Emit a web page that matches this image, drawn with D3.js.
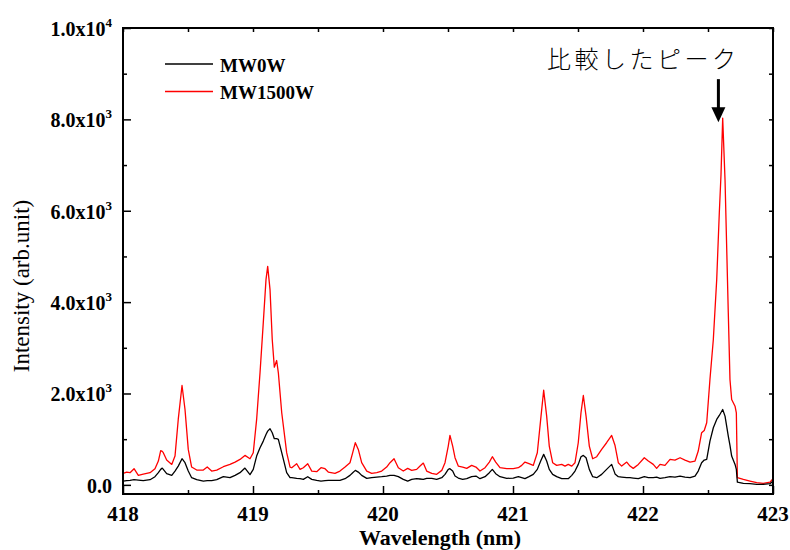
<!DOCTYPE html>
<html>
<head>
<meta charset="utf-8">
<script src="https://cdn.jsdelivr.net/npm/d3@7"></script>
<style>
  body { margin: 0; background: #fff; }
  svg text { font-family: "Liberation Serif", "Times New Roman", serif; }
</style>
</head>
<body>
<div class="spec"></div>
<script>
// spectra (wavelength in nm, intensity in arb. unit)
var wavelength = [418.002,418.028,418.054,418.085,418.118,418.156,418.208,418.246,418.272,418.290,
  418.302,418.310,418.336,418.375,418.400,418.425,418.454,418.477,418.502,418.528,
  418.567,418.618,418.648,418.682,418.721,418.772,418.823,418.862,418.900,418.938,
  418.977,419.002,419.028,419.054,419.079,419.100,419.113,419.131,419.148,419.164,
  419.182,419.195,419.221,419.259,419.285,419.298,419.336,419.362,419.387,419.421,
  419.452,419.490,419.523,419.554,419.579,419.631,419.669,419.708,419.746,419.767,
  419.787,419.810,419.836,419.875,419.913,419.952,419.990,420.028,420.054,420.085,
  420.118,420.156,420.190,420.221,420.259,420.285,420.310,420.336,420.375,420.413,
  420.452,420.477,420.502,420.515,420.536,420.554,420.579,420.613,420.644,420.682,
  420.715,420.746,420.785,420.818,420.841,420.867,420.900,420.952,421.002,421.041,
  421.067,421.092,421.123,421.156,421.187,421.213,421.236,421.259,421.279,421.305,
  421.336,421.375,421.400,421.425,421.452,421.477,421.502,421.523,421.541,421.562,
  421.587,421.613,421.644,421.682,421.720,421.759,421.785,421.810,421.836,421.875,
  421.900,421.925,421.964,422.010,422.041,422.079,422.105,422.131,422.169,422.208,
  422.246,422.285,422.323,422.362,422.400,422.425,422.451,422.471,422.490,422.515,
  422.541,422.567,422.587,422.600,422.613,422.631,422.656,422.669,422.682,422.708,
  422.718,422.726,422.772,422.823,422.875,422.925,422.977,423.000];

var mw0w = [83,92,98,113,105,92,113,179,267,339,
  367,339,245,208,302,411,572,485,302,157,
  113,83,92,92,113,179,157,208,267,367,
  223,339,630,813,958,1104,1176,1228,1141,1010,
  1010,995,704,267,157,157,142,135,120,179,
  120,98,83,92,98,98,98,135,208,267,
  317,280,208,142,157,171,179,193,208,208,
  179,120,83,120,135,128,120,142,142,120,
  157,230,339,354,302,193,149,120,135,179,
  193,135,179,267,339,245,179,142,149,179,
  157,135,179,230,339,521,667,521,339,230,
  179,135,135,135,208,302,448,616,645,594,
  339,179,157,230,339,448,240,179,171,157,
  157,149,135,179,157,157,171,142,157,179,
  171,193,171,157,193,302,485,543,557,958,
  1250,1432,1519,1585,1650,1504,1067,863,630,448,
  339,61,33,26,11,11,26,83];

var mw1500w = [251,280,267,354,208,236,267,354,520,748,
  732,704,542,448,630,1432,2175,1650,776,390,
  324,324,390,302,324,397,448,499,557,645,
  572,704,1432,2453,3546,4492,4783,4274,3181,2575,
  2722,2453,1578,704,390,375,463,339,375,463,
  302,288,375,354,280,251,302,390,485,704,
  922,776,485,302,251,267,302,390,485,572,
  375,302,360,317,339,411,477,302,251,230,
  317,485,848,1082,848,594,411,390,361,426,
  390,302,375,499,616,499,375,354,354,375,
  426,499,463,426,704,1432,2072,1504,848,485,
  426,448,411,448,411,485,922,1578,1956,1504,
  848,572,616,776,922,1082,860,485,411,499,
  411,361,448,594,521,448,361,448,426,557,
  543,594,543,499,521,740,1141,1191,1360,2306,
  3181,4492,5957,6788,8027,6678,3771,2306,1869,1722,
  1578,157,120,83,48,33,61,135];

var seriesNames = ["MW0W", "MW1500W"];
var seriesColors = ["#000000", "#ff0000"];

var xTicks = [418, 419, 420, 421, 422, 423];
var xMinorTicks = [418.5, 419.5, 420.5, 421.5, 422.5];
var yTicks = [0, 2000, 4000, 6000, 8000, 10000];
var yMinorTicks = [1000, 3000, 5000, 7000, 9000];
// label = mantissa + optional power of ten
var yTickMantissa = ["0.0", "2.0x10", "4.0x10", "6.0x10", "8.0x10", "1.0x10"];
var yTickExponent = ["", "3", "3", "3", "3", "4"];

var annotationText = "比較したピーク";
var annotationWl = 422.58;

var W = 790, H = 550;
var margin = {left: 123, right: 17, top: 28, bottom: 56};

var svg = d3.select(".spec").append("svg")
  .attr("width", W)
  .attr("height", H);

var x = d3.scaleLinear()
  .domain([418, 423])
  .range([margin.left, W - margin.right]);

var y = d3.scaleLinear()
  .domain([-200, 10000])
  .range([H - margin.bottom, margin.top]);

var x0 = x.range()[0], x1 = x.range()[1];
var y0 = y.range()[0], y1 = y.range()[1];

svg.append("clipPath").attr("id", "plotclip")
  .append("rect")
  .attr("x", x0).attr("y", y1)
  .attr("width", x1 - x0).attr("height", y0 - y1);

// spectra, red first so black sits on top
var seriesData = [mw0w, mw1500w];
[1, 0].forEach(function(i){
  var line = d3.line()
    .x(function(d, k){ return x(wavelength[k]); })
    .y(function(d){ return y(d); });
  svg.append("path")
    .datum(seriesData[i])
    .attr("clip-path", "url(#plotclip)")
    .attr("fill", "none")
    .attr("stroke", seriesColors[i])
    .attr("stroke-width", 1.3)
    .attr("stroke-linejoin", "round")
    .attr("d", line);
});

// axes: all ticks point into the plot
function tickAxis(axisFn, scale, values, size, tx, ty){
  var g = svg.append("g")
    .attr("transform", "translate(" + tx + "," + ty + ")")
    .call(axisFn(scale).tickValues(values).tickSize(-size).tickFormat(""));
  g.select(".domain").remove();
  g.selectAll("line").attr("stroke", "#000").attr("stroke-width", 1.5);
  return g;
}
tickAxis(d3.axisBottom, x, xTicks, 8, 0, y0);
tickAxis(d3.axisBottom, x, xMinorTicks, 4, 0, y0);
tickAxis(d3.axisTop, x, xTicks, 4, 0, y1);
tickAxis(d3.axisTop, x, xMinorTicks, 4, 0, y1);
tickAxis(d3.axisLeft, y, yTicks, 8, x0, 0);
tickAxis(d3.axisLeft, y, yMinorTicks, 4, x0, 0);
tickAxis(d3.axisRight, y, yTicks, 4, x1, 0);
tickAxis(d3.axisRight, y, yMinorTicks, 4, x1, 0);

// frame
svg.append("rect")
  .attr("x", x0).attr("y", y1)
  .attr("width", x1 - x0).attr("height", y0 - y1)
  .attr("fill", "none")
  .attr("stroke", "#000")
  .attr("stroke-width", 2);

// x tick labels
svg.selectAll(".xlab")
  .data(xTicks)
  .enter().append("text")
  .attr("class", "xlab")
  .attr("x", function(d){ return x(d); })
  .attr("y", y0 + 27)
  .attr("text-anchor", "middle")
  .style("font-size", "21px")
  .style("font-weight", "bold")
  .text(function(d){ return d; });

// y tick labels with superscript power
var ylab = svg.selectAll(".ylab")
  .data(yTicks)
  .enter().append("text")
  .attr("class", "ylab")
  .attr("x", 112)
  .attr("y", function(d){ return y(d) + 8; })
  .attr("text-anchor", "end")
  .style("font-size", "20px")
  .style("font-weight", "bold");
ylab.append("tspan")
  .text(function(d, i){ return yTickMantissa[i]; });
ylab.append("tspan")
  .attr("dy", -9)
  .style("font-size", "13px")
  .text(function(d, i){ return yTickExponent[i]; });

// axis titles
svg.append("text")
  .attr("x", 440)
  .attr("y", 545)
  .attr("text-anchor", "middle")
  .style("font-size", "22px")
  .style("font-weight", "bold")
  .text("Wavelength (nm)");

svg.append("text")
  .attr("transform", "translate(29,286) rotate(-90)")
  .attr("text-anchor", "middle")
  .style("font-size", "23px")
  .text("Intensity (arb.unit)");

// legend
var legend = svg.append("g").attr("transform", "translate(165,64)");
seriesNames.forEach(function(name, i){
  legend.append("line")
    .attr("x1", 0).attr("x2", 48)
    .attr("y1", i * 27.5).attr("y2", i * 27.5)
    .attr("stroke", seriesColors[i])
    .attr("stroke-width", 1.3);
  legend.append("text")
    .attr("x", 55)
    .attr("y", i * 27.5 + 7.5)
    .style("font-size", "19px")
    .style("font-weight", "bold")
    .text(name);
});

// annotation arrow pointing at the compared peak
var ax = x(annotationWl);
var tipY = y(d3.max(mw1500w)) + 4;
svg.append("line")
  .attr("x1", ax).attr("x2", ax)
  .attr("y1", tipY - 43).attr("y2", tipY - 12)
  .attr("stroke", "#000")
  .attr("stroke-width", 3);
svg.append("path")
  .attr("d", "M" + (ax - 7) + "," + (tipY - 15) + "L" + (ax + 7) + "," + (tipY - 15) + "L" + ax + "," + tipY + "Z")
  .attr("fill", "#000");

svg.append("text")
  .attr("x", 547)
  .attr("y", 68)
  .style("font-family", "'Noto Sans CJK JP', sans-serif")
  .style("font-size", "24px")
  .style("font-weight", "300")
  .style("letter-spacing", "3.5px")
  .text(annotationText);
</script>
</body>
</html>
